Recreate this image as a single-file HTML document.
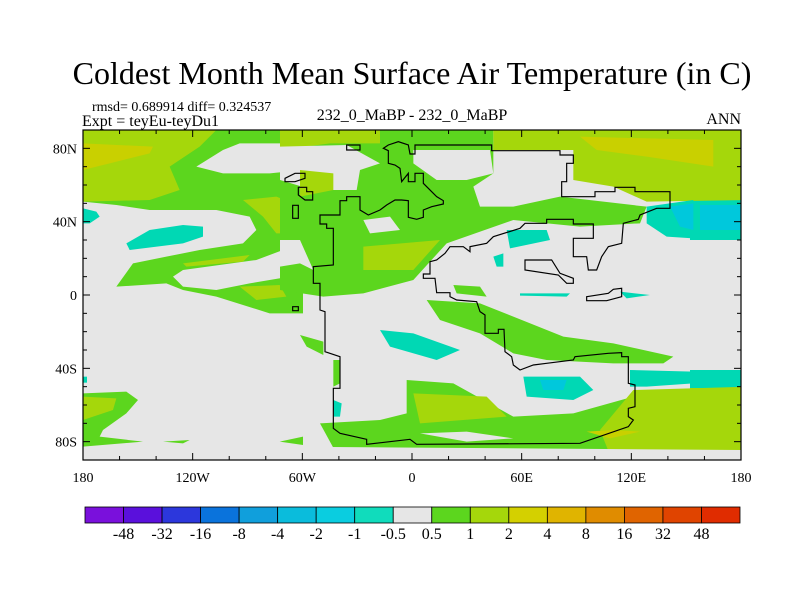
<!DOCTYPE html>
<html><head><meta charset="utf-8"><style>
html,body{margin:0;padding:0;background:#fff;}
svg{display:block;font-family:"Liberation Serif",serif;}
</style></head><body>
<svg id="c" width="800" height="600">
<rect width="800" height="600" fill="#fff"/>
<text x="412" y="84" font-size="32" text-anchor="middle">Coldest Month Mean Surface Air Temperature (in C)</text>
<text x="92" y="111" font-size="14">rmsd= 0.689914 diff= 0.324537</text>
<text x="82" y="126" font-size="16">Expt = teyEu-teyDu1</text>
<text x="412" y="120" font-size="16" text-anchor="middle">232_0_MaBP - 232_0_MaBP</text>
<text x="741" y="124" font-size="16" text-anchor="end">ANN</text>
<defs><clipPath id="pc"><rect x="83" y="130" width="658" height="330"/></clipPath></defs>
<g clip-path="url(#pc)">
<rect x="83" y="130" width="658" height="330" fill="#e6e6e6"/>
<rect x="690" y="130" width="60" height="75" fill="#a5d70b"/>
<rect x="690" y="198" width="60" height="42" fill="#00d8b4"/>
<rect x="700" y="205" width="50" height="25" fill="#00c8dc"/>
<rect x="690" y="370" width="60" height="18" fill="#00d8b4"/>
<rect x="690" y="388" width="60" height="62" fill="#a5d70b"/>
<g transform="translate(83,130) scale(0.33333)">
<polygon fill="#5cd61e" points="0,0 660,0 660,330 600,360 520,390 300,420 270,440 300,470 400,480 500,460 620,440 660,440 660,550 560,550 400,500 300,480 250,460 100,470 150,400 250,380 350,360 480,340 520,300 500,260 400,240 200,240 100,225 0,215"/>
<polygon fill="#e6e6e6" points="340,110 420,60 470,40 520,40 600,40 660,40 660,120 560,130 420,130"/>
<polygon fill="#a5d70b" points="0,0 400,0 350,50 260,110 290,180 200,210 0,215"/>
<polygon fill="#c9d000" points="0,40 210,50 200,70 80,100 0,120"/>
<polygon fill="#a5d70b" points="480,210 580,200 660,230 660,310 580,310 540,260"/>
<polygon fill="#00d8b4" points="130,340 200,300 300,285 360,290 360,320 300,340 140,360"/>
<polygon fill="#00d8b4" points="0,235 40,245 50,260 20,280 0,280"/>
<polygon fill="#a5d70b" points="300,400 500,375 480,395 310,410"/>
<polygon fill="#a5d70b" points="470,470 590,465 610,500 520,510"/>
<polygon fill="#5cd61e" points="0,790 130,785 165,810 130,850 60,900 50,920 180,935 0,950"/>
<polygon fill="#a5d70b" points="0,800 100,805 90,840 0,870"/>
<polygon fill="#00d8b4" points="0,740 12,740 12,758 0,758"/>
<polygon fill="#5cd61e" points="240,935 320,930 300,940"/>
<polygon fill="#5cd61e" points="590,935 660,920 660,945"/>
</g>
<g transform="translate(280,130) scale(0.33333)">
<polygon fill="#5cd61e" points="0,0 640,0 640,130 580,170 600,230 700,230 840,200 1100,230 1080,280 900,290 700,270 500,340 400,450 250,490 130,500 0,480"/>
<polygon fill="#a5d70b" points="640,0 1400,0 1400,210 1100,215 1000,170 880,150 880,60 640,60"/>
<polygon fill="#c9d000" points="900,20 1300,30 1300,110 1100,80 950,60"/>
<polygon fill="#a5d70b" points="0,0 300,0 300,40 150,40 0,60"/>
<polygon fill="#e6e6e6" points="0,50 200,45 300,100 240,120 230,180 100,180 0,150"/>
<polygon fill="#e6e6e6" points="400,60 630,60 640,130 560,150 470,150 400,100"/>
<polygon fill="#e6e6e6" points="650,60 840,70 860,110 840,180 760,160 680,130"/>
<polygon fill="#e6e6e6" points="250,270 330,260 360,300 270,310"/>
<polygon fill="#e6e6e6" points="0,330 60,330 100,420 60,400 0,410"/>
<polygon fill="#a5d70b" points="250,350 480,330 400,420 250,420"/>
<polygon fill="#a5d70b" points="60,120 160,130 160,180 60,200"/>
<polygon fill="#5cd61e" points="440,510 600,520 700,560 850,620 1000,640 1180,680 1150,700 1000,700 800,690 700,670 600,610 480,570"/>
<polygon fill="#5cd61e" points="520,465 600,470 620,500 530,490"/>
<polygon fill="#5cd61e" points="60,615 130,635 130,675 80,650"/>
<polygon fill="#00d8b4" points="300,600 400,610 540,660 470,690 330,650"/>
<polygon fill="#00d8b4" points="680,300 800,300 810,330 690,355"/>
<polygon fill="#00d8b4" points="640,380 670,370 670,410 650,410"/>
<polygon fill="#00d8b4" points="720,490 870,490 860,500 720,497"/>
<polygon fill="#00d8b4" points="730,740 900,740 940,780 880,810 740,800"/>
<polygon fill="#00c8dc" points="780,750 860,750 850,780 790,780"/>
<polygon fill="#00d8b4" points="1100,230 1240,210 1240,325 1160,320 1100,280"/>
<polygon fill="#00c8dc" points="1170,230 1240,220 1240,300 1200,290"/>
<polygon fill="#00d8b4" points="1050,720 1240,725 1240,760 1100,770 1050,770"/>
<polygon fill="#00d8b4" points="1020,485 1110,495 1040,505"/>
<polygon fill="#5cd61e" points="380,750 520,760 700,860 880,850 1060,800 1400,770 1400,1000 900,1000 500,1000 180,990 120,880 300,870 380,850"/>
<polygon fill="#a5d70b" points="400,790 620,800 680,860 420,880"/>
<polygon fill="#a5d70b" points="1060,780 1400,770 1400,1000 1000,1000 960,900"/>
<polygon fill="#c9d000" points="920,905 1000,900 1080,905 990,925"/>
<polygon fill="#00d8b4" points="160,810 185,820 180,860 162,860"/>
<polygon fill="#e6e6e6" points="420,910 560,905 700,925 560,935"/>
<polygon fill="#e6e6e6" points="0,950 1400,960 1400,1000 0,1000"/>
<polygon fill="#5cd61e" points="160,690 180,690 180,760 160,770"/>
<g fill="none" stroke="#000" stroke-width="3.5">
<polygon points="405,45 635,45 635,62 840,62 840,75 880,75 880,100 860,100 860,155 845,155 845,200 945,200 945,185 1005,185 1005,172 1065,172 1065,185 1170,185 1170,235 1130,235 1080,255 1075,268 1030,280 1025,340 985,350 965,380 950,420 925,420 920,380 880,380 880,325 940,325 940,282 880,282 880,268 800,268 800,280 735,280 720,295 640,320 620,340 570,350 570,365 550,350 510,350 495,370 470,390 450,395 450,432 430,432 430,445 465,445 470,488 510,488 510,500 530,510 590,515 600,545 615,555 615,610 655,610 655,598 672,598 675,665 695,680 700,705 720,720 760,705 800,700 880,690 885,680 985,670 1025,668 1025,680 1045,680 1045,760 1065,765 1065,830 1045,835 1045,860 1060,870 1045,890 900,940 410,943 390,928 260,943 260,928 180,910 160,895 160,775 180,775 180,680 135,665 135,545 120,540 120,460 100,460 100,410 160,405 160,295 140,295 140,282 120,282 120,255 180,255 180,212 200,212 200,200 240,200 240,240 265,255 300,240 320,225 345,210 365,210 385,212 385,262 410,268 430,262 430,240 455,230 490,222 490,212 470,200 430,160 430,130 405,130 405,155 385,155 385,130 365,155 360,115 345,105 325,100 325,62 310,55 325,45 355,35 385,45 390,72 405,72"/>
<polygon points="735,390 815,390 840,430 880,445 880,460 860,460 835,435 735,420"/>
<polygon points="920,500 985,490 1000,478 1025,475 1025,500 980,512 920,512"/>
<polygon points="200,45 240,45 240,60 200,60"/>
<polygon points="15,145 45,130 75,130 75,145 45,155 15,155"/>
<polygon points="55,172 80,172 80,185 98,185 98,210 75,210 55,195"/>
<polygon points="38,226 55,226 55,265 38,265"/>
<polygon points="38,530 55,530 55,542 38,542"/>
</g>
</g>
</g>
<rect x="83" y="130" width="658" height="330" fill="none" stroke="#000" stroke-width="1.2"/>
<g id="axes"></g>
<g id="cbar"></g>
</svg>
<script>
const lonTicks=[-180,-120,-60,0,60,120,180];
const lonLabels=["180","120W","60W","0","60E","120E","180"];
const latTicks=[80,40,0,-40,-80];
const latLabels=["80N","40N","0","40S","80S"];
const cbLabels=["-48","-32","-16","-8","-4","-2","-1","-0.5","0.5","1","2","4","8","16","32","48"];
const cbColors=["#7a10dc","#5a10dc","#2c37dc","#0a73dc","#109fdc","#0abcdc","#0acde0","#10dcbc","#e6e6e6","#5cd61e","#a5d70b","#d4d000","#e0b400","#e08c00","#e06400","#e04400","#e02c00"];
const NS="http://www.w3.org/2000/svg";
const X0=83,X1=741,Y0=130,Y1=460;
const xs=l=>X0+(l+180)/360*(X1-X0);
const ys=l=>Y0+(90-l)/180*(Y1-Y0);
function mk(t,a,p){const e=document.createElementNS(NS,t);for(const k in a)e.setAttribute(k,a[k]);p.appendChild(e);return e;}
const ax=document.getElementById('axes');
for(let l=-180;l<=180;l+=20){const x=xs(l);const maj=l%60===0;const len=maj?7:4;
const t1=mk('line',{x1:x,x2:x,y1:Y1,y2:Y1-len,stroke:'#000'},ax);
const t2=mk('line',{x1:x,x2:x,y1:Y0,y2:Y0+len,stroke:'#000'},ax);}
for(let l=-90;l<=90;l+=10){const y=ys(l);const maj=(l%40===0);const len=maj?7:4;
const t1=mk('line',{x1:X0,x2:X0+len,y1:y,y2:y,stroke:'#000'},ax);
const t2=mk('line',{x1:X1,x2:X1-len,y1:y,y2:y,stroke:'#000'},ax);}
lonTicks.forEach((l,i)=>{const t=mk('text',{x:xs(l),y:482,'font-size':14,'text-anchor':'middle'},ax);t.textContent=lonLabels[i];
});
latTicks.forEach((l,i)=>{const t=mk('text',{x:77,y:ys(l)+5,'font-size':14,'text-anchor':'end'},ax);t.textContent=latLabels[i];
});
const cb=document.getElementById('cbar');const CX0=85,CX1=740,CY=507,CH=16;const w=(CX1-CX0)/cbColors.length;
cbColors.forEach((c,i)=>{const r=mk('rect',{x:CX0+i*w,y:CY,width:w,height:CH,fill:c,stroke:'#000','stroke-width':0.8},cb);
});
cbLabels.forEach((s,i)=>{const t=mk('text',{x:CX0+(i+1)*w,y:CY+CH+16,'font-size':16,'text-anchor':'middle'},cb);t.textContent=s;
});
</script>
</body></html>
